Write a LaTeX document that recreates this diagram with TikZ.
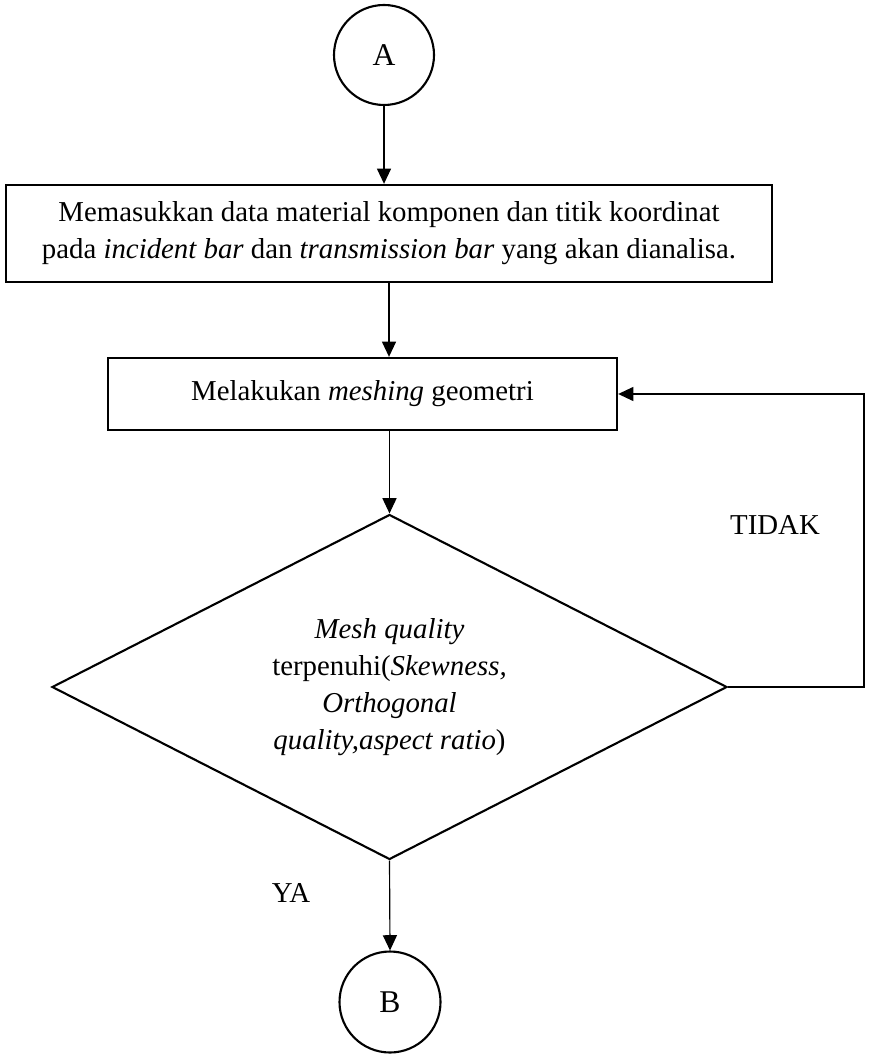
\documentclass[tikz,border=0pt]{standalone}
\usepackage{fontspec}
\setmainfont{Liberation Serif}
\usetikzlibrary{shapes.geometric, arrows.meta}

\begin{document}
\begin{tikzpicture}[x=0.015cm, y=-0.015cm,
    every node/.style={font=\fontsize{12.3}{15.8}\selectfont},
    conn/.style={circle, draw, line width=0.9pt, minimum size=1.5cm, inner sep=0pt,
      font=\fontsize{13.5}{16}\selectfont},
    proc/.style={rectangle, draw, line width=1pt, align=center, inner sep=0pt},
    dec/.style={diamond, draw, line width=0.9pt, align=center, inner sep=0pt, aspect=2,
      minimum width=10.125cm, minimum height=5.175cm},
    arr/.style={-{Triangle[length=6.5pt,width=6pt]}, line width=0.5pt}]
    \useasboundingbox (0,0) rectangle (869,1057);
    \node[conn] (A) at (384,55) {A};
    \node[proc, minimum width=11.49cm, minimum height=1.455cm] (input) at (389,233.5)
      {Memasukkan data material komponen dan titik koordinat\\
       pada \textit{incident bar} dan \textit{transmission bar} yang akan dianalisa.};
    \node[proc, minimum width=7.635cm, minimum height=1.08cm] (mesh) at (362.5,394)
      {Melakukan \textit{meshing} geometri};
    \node[dec] (check) at (389.5,687)
      {\textit{Mesh quality}\\
       terpenuhi(\textit{Skewness,}\\
       \textit{Orthogonal}\\
       \textit{quality,aspect ratio})};
    \node[conn, minimum size=1.515cm] (B) at (390,1002) {B};
    \node (no) at (775,525) {TIDAK};
    \node (yes) at (291,893) {YA};
    \coordinate (turn) at (864,394);
    % vertical arrows
    \draw[arr] (A.south) -- (A.south |- input.north);
    \draw[arr] (input.south) -- (input.south |- mesh.north);
    \draw[arr] (check.north |- mesh.south) -- (check.north);
    \draw[arr] (check.south) -- (B.north);
    % loop back
    \draw[arr] (check.east) -| (turn) -- (mesh.east);
\end{tikzpicture}
\end{document}
